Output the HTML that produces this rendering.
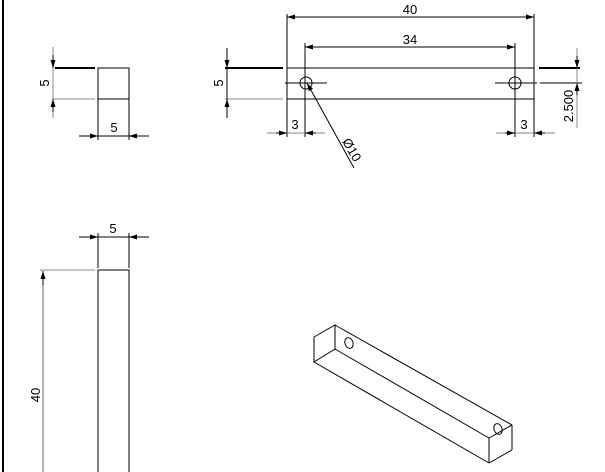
<!DOCTYPE html>
<html><head><style>body{margin:0;background:#fff}svg{display:block}text{font-family:"Liberation Sans",sans-serif;font-size:13px;fill:#000}</style></head><body>
<svg width="605" height="472" viewBox="0 0 605 472" xmlns="http://www.w3.org/2000/svg">
<defs><marker id="a" markerWidth="8" markerHeight="6" refX="8" refY="3" orient="auto" markerUnits="userSpaceOnUse"><path d="M0,0.5 L8,3 L0,5.5z" fill="#000"/></marker></defs>
<g stroke="#000" fill="none" stroke-width="1">
<line x1="3" y1="0" x2="3" y2="472" stroke-width="2"/>
<!-- top-left -->
<rect x="98" y="68" width="31" height="31"/>
<line x1="55" y1="68" x2="95" y2="68" stroke-width="2"/>
<line x1="53" y1="99" x2="95" y2="99" stroke="#888"/>
<line x1="53" y1="47" x2="53" y2="118" stroke="#888"/>
<line x1="53" y1="55" x2="53" y2="68" marker-end="url(#a)"/>
<line x1="53" y1="112" x2="53" y2="99" marker-end="url(#a)"/>
<line x1="98" y1="99" x2="98" y2="140"/><line x1="129" y1="99" x2="129" y2="140"/>
<line x1="79" y1="136" x2="149" y2="136"/>
<line x1="86" y1="136" x2="98" y2="136" marker-end="url(#a)"/>
<line x1="142" y1="136" x2="129" y2="136" marker-end="url(#a)"/>
<!-- top view -->
<rect x="287" y="68" width="247" height="31"/>
<line x1="225" y1="68" x2="283" y2="68" stroke-width="2"/>
<line x1="225" y1="99" x2="283" y2="99" stroke="#888"/>
<line x1="539" y1="68" x2="580" y2="68" stroke-width="2"/>
<line x1="227" y1="48" x2="227" y2="118"/>
<line x1="227" y1="55" x2="227" y2="68" marker-end="url(#a)"/>
<line x1="227" y1="112" x2="227" y2="99" marker-end="url(#a)"/>
<line x1="287" y1="14" x2="287" y2="137"/><line x1="534" y1="14" x2="534" y2="137"/>
<line x1="287" y1="17" x2="534" y2="17"/>
<line x1="297" y1="17" x2="287" y2="17" marker-end="url(#a)"/>
<line x1="524" y1="17" x2="534" y2="17" marker-end="url(#a)"/>
<line x1="305" y1="43" x2="305" y2="137"/><line x1="515" y1="43" x2="515" y2="137"/>
<line x1="305" y1="47" x2="515" y2="47"/>
<line x1="315" y1="47" x2="305" y2="47" marker-end="url(#a)"/>
<line x1="505" y1="47" x2="515" y2="47" marker-end="url(#a)"/>
<circle cx="306" cy="83" r="6"/><circle cx="515" cy="83" r="6"/>
<line x1="285" y1="83" x2="327" y2="83"/><line x1="495" y1="83" x2="537" y2="83"/><line x1="540" y1="83" x2="582" y2="83"/>
<line x1="267" y1="133" x2="325" y2="133" stroke="#888"/>
<line x1="276" y1="133" x2="287" y2="133" marker-end="url(#a)"/>
<line x1="316" y1="133" x2="305" y2="133" marker-end="url(#a)"/>
<line x1="496" y1="133" x2="555" y2="133" stroke="#888"/>
<line x1="505" y1="133" x2="515" y2="133" marker-end="url(#a)"/>
<line x1="545" y1="133" x2="534" y2="133" marker-end="url(#a)"/>
<line x1="577" y1="48" x2="577" y2="128" stroke="#888"/>
<line x1="577" y1="56" x2="577" y2="68" marker-end="url(#a)"/>
<line x1="577" y1="95" x2="577" y2="83" marker-end="url(#a)"/>
<line x1="354" y1="168" x2="307" y2="83" marker-end="url(#a)"/>
<!-- front view -->
<rect x="98" y="270" width="31" height="210"/>
<line x1="98" y1="233" x2="98" y2="268"/><line x1="129" y1="233" x2="129" y2="268"/>
<line x1="79" y1="237" x2="149" y2="237"/>
<line x1="86" y1="237" x2="98" y2="237" marker-end="url(#a)"/>
<line x1="142" y1="237" x2="129" y2="237" marker-end="url(#a)"/>
<line x1="40" y1="270" x2="95" y2="270" stroke="#888"/>
<line x1="43" y1="272" x2="43" y2="472" stroke="#666"/>
<line x1="43" y1="285" x2="43" y2="271" marker-end="url(#a)"/>
<!-- iso -->
<polygon points="314,337 335,325 335,349 314,362"/>
<line x1="335" y1="325" x2="512" y2="425"/>
<line x1="335" y1="349" x2="489" y2="438"/>
<line x1="314" y1="362" x2="489" y2="463"/>
<line x1="512" y1="425" x2="512" y2="450"/>
<line x1="489" y1="438" x2="489" y2="463"/>
<line x1="512" y1="450" x2="489" y2="463"/>
<line x1="512" y1="425" x2="489" y2="438"/>
<ellipse cx="349" cy="343" rx="4" ry="5.5" transform="rotate(-20 349 343)"/>
<ellipse cx="498" cy="429" rx="4" ry="5.5" transform="rotate(-20 498 429)"/>
</g>
<text x="114" y="132" text-anchor="middle">5</text>
<text transform="translate(49,83) rotate(-90)" text-anchor="middle">5</text>
<text transform="translate(223,83) rotate(-90)" text-anchor="middle">5</text>
<text x="410" y="14" text-anchor="middle">40</text>
<text x="410" y="44" text-anchor="middle">34</text>
<text x="295" y="129" text-anchor="middle">3</text>
<text x="524" y="129" text-anchor="middle">3</text>
<text transform="translate(573,106) rotate(-90)" text-anchor="middle" font-size="12">2.500</text>
<text transform="translate(348,152) rotate(60)" text-anchor="middle">Ø10</text>
<text x="113" y="233" text-anchor="middle">5</text>
<text transform="translate(40,395) rotate(-90)" text-anchor="middle">40</text>
</svg>
</body></html>
